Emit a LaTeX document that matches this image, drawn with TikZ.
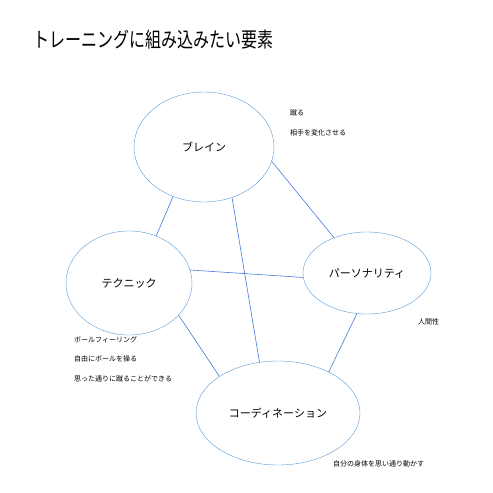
\documentclass[tikz,border=0pt]{standalone}
\usepackage{fontspec}
\newfontfamily\jp{Noto Sans CJK JP}
\usetikzlibrary{shapes.geometric}
\definecolor{elemblue}{RGB}{91,155,213}

\tikzset{
  elem/.style={ellipse, draw=elemblue, inner sep=0pt, font=\jp\fontsize{11}{13}\selectfont},
  note/.style={anchor=west, inner sep=0pt, font=\jp\fontsize{7}{8}\selectfont},
  link/.style={draw=elemblue!80!blue, line width=0.6pt}
}

\begin{document}
\begin{tikzpicture}[x=1pt, y=-1pt]
            \useasboundingbox[fill=white] (0,0) rectangle (493,493);
            \node[anchor=west, inner sep=0pt, font=\jp\fontsize{16}{18}\selectfont] (title) at (33,40) {\scalebox{1}[1.3]{トレーニングに組み込みたい要素}};
            % four elements
            \node[elem, minimum width=140pt, minimum height=110pt] (brain) at (204,147) {ブレイン};
            \node[elem, minimum width=126pt, minimum height=104pt] (tech) at (129,283) {テクニック};
            \node[elem, minimum width=128pt, minimum height=82pt] (pers) at (367,273) {パーソナリティ};
            \node[elem, minimum width=164pt, minimum height=104pt] (coord) at (278,413) {コーディネーション};
            % links
            \draw[link] (brain.-12) -- (pers.133);
            \draw[link] (brain.-122) -- (tech.60);
            \draw[link] (brain.-61) -- (coord.110);
            \draw[link] (tech.12) -- (pers.-176);
            \draw[link] (tech.-33) -- (coord.148);
            \draw[link] (pers.-104) -- (coord.39);
            % notes
            \foreach \y/\t [count=\i] in {113/蹴る, 133/相手を変化させる}
                \node[note] (nb\i) at (290,\y) {\t};
            \foreach \y/\t [count=\i] in {340/ボールフィーリング, 359/自由にボールを操る, 379/思った通りに蹴ることができる}
                \node[note] (nt\i) at (74,\y) {\t};
            \node[note] (np1) at (418,322) {人間性};
            \node[note] (nc1) at (333,464) {自分の身体を思い通り動かす};
        \end{tikzpicture}
\end{document}
